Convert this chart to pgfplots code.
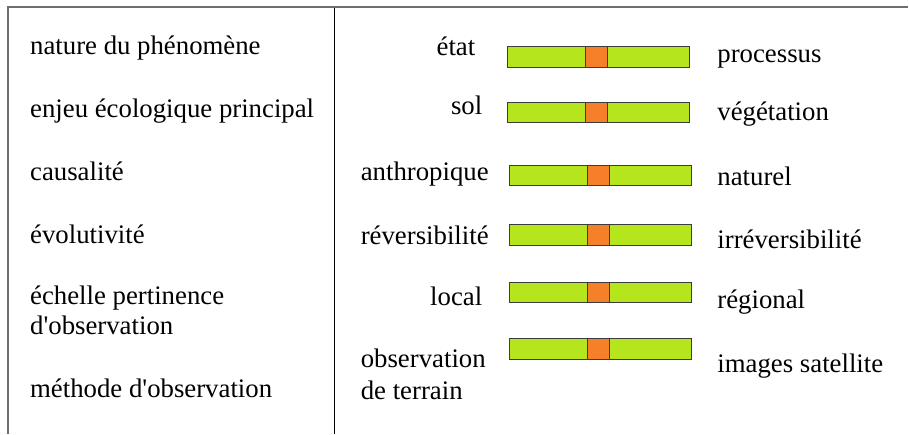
\documentclass[border=0pt]{standalone}
\usepackage{pgfplots}
\pgfplotsset{compat=1.18}
\usepackage{fontspec}
\setmainfont{Liberation Serif}
\newfontfamily\lbfont{Liberation Serif}
\definecolor{barlime}{RGB}{181,230,29}
\definecolor{barorange}{RGB}{246,127,42}
\definecolor{baredge}{RGB}{60,60,60}
\definecolor{frame}{RGB}{110,110,110}
\tikzset{lbl/.style={font=\lbfont\fontsize{26.8}{30}\selectfont, inner sep=0pt, text=black}}
\begin{document}
\begin{tikzpicture}
\begin{axis}[
  width=909pt, height=434pt, scale only axis,
  xmin=0, xmax=909, ymin=0, ymax=434, y dir=reverse,
  hide axis, clip=false,
  xbar stacked, bar width=20.5pt,
]
% invisible offset
\addplot[draw=none, fill=none] coordinates {(508,57) (508,112.5) (510,175.5) (510,235) (510,293) (510,349.5)};
\addplot[fill=barlime, draw=baredge, line width=0.9pt] coordinates {(78,57) (78,112.5) (78,175.5) (78,235) (78,293) (78,349.5)};
\addplot[fill=barorange, draw=baredge, line width=0.9pt] coordinates {(22,57) (22,112.5) (22,175.5) (22,235) (22,293) (22,349.5)};
\addplot[fill=barlime, draw=baredge, line width=0.9pt] coordinates {(82,57) (82,112.5) (82,175.5) (82,235) (82,293) (82,349.5)};

% frame
\path (axis cs:0,0) rectangle (axis cs:909,434);
\draw[frame, line width=2pt] (axis cs:8.5,434) -- (axis cs:8.5,7) -- (axis cs:909,7);
\draw[black, line width=1pt] (axis cs:335,7) -- (axis cs:335,434);

% left column
\node[lbl, anchor=base west] at (axis cs:30,55) {nature du phénomène};
\node[lbl, anchor=base west] at (axis cs:30,118) {enjeu écologique principal};
\node[lbl, anchor=base west] at (axis cs:30,181) {causalité};
\node[lbl, anchor=base west] at (axis cs:30,244) {évolutivité};
\node[lbl, anchor=base west] at (axis cs:30,305) {échelle pertinence};
\node[lbl, anchor=base west] at (axis cs:30,335) {d\textquotesingle observation};
\node[lbl, anchor=base west] at (axis cs:30,398) {méthode d\textquotesingle observation};

% middle labels
\node[lbl, anchor=base east] at (axis cs:476,56) {état};
\node[lbl, anchor=base east] at (axis cs:483,115) {sol};
\node[lbl, anchor=base west] at (axis cs:361,181) {anthropique};
\node[lbl, anchor=base west] at (axis cs:361,245) {réversibilité};
\node[lbl, anchor=base east] at (axis cs:483,306) {local};
\node[lbl, anchor=base west] at (axis cs:361,368) {observation};
\node[lbl, anchor=base west] at (axis cs:361,400) {de terrain};

% right labels
\node[lbl, anchor=base west] at (axis cs:718,63) {processus};
\node[lbl, anchor=base west] at (axis cs:718,121) {végétation};
\node[lbl, anchor=base west] at (axis cs:718,186) {naturel};
\node[lbl, anchor=base west] at (axis cs:718,249) {irréversibilité};
\node[lbl, anchor=base west] at (axis cs:718,309) {régional};
\node[lbl, anchor=base west] at (axis cs:718,373) {images satellite};
\end{axis}
\end{tikzpicture}
\end{document}
